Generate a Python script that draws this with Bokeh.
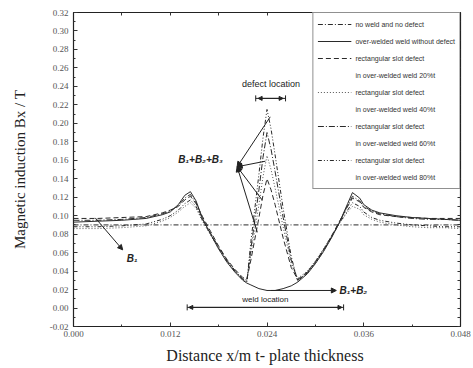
import math
from bokeh.plotting import figure
from bokeh.models import (Range1d, FixedTicker, NumeralTickFormatter, LinearAxis, Legend, LegendItem,
                          Label, Arrow, NormalHead, TeeHead)
from bokeh.embed import file_html
from bokeh.resources import INLINE

# ---------------- data ----------------
x = [0.000, 0.003, 0.006, 0.009, 0.011, 0.012, 0.013, 0.0138, 0.0145, 0.0152, 0.016, 0.017, 0.018, 0.019,
     0.020, 0.021, 0.0215, 0.022, 0.023, 0.0235, 0.024, 0.0245, 0.025, 0.026, 0.027, 0.0278, 0.029, 0.030,
     0.031, 0.032, 0.033, 0.034, 0.0346, 0.0355, 0.036, 0.037, 0.038, 0.040, 0.042, 0.044, 0.046, 0.048]

no_weld_x = [0.000, 0.012, 0.024, 0.036, 0.048]
no_weld_y = [0.090, 0.090, 0.090, 0.090, 0.090]

no_defect = [0.093, 0.094, 0.095, 0.097, 0.101, 0.104, 0.112, 0.122, 0.126, 0.116, 0.097, 0.080, 0.064, 0.050,
             0.039, 0.030, 0.027, 0.025, 0.021, 0.020, 0.019, 0.019, 0.019, 0.021, 0.024, 0.028, 0.037, 0.048,
             0.061, 0.076, 0.093, 0.113, 0.125, 0.119, 0.112, 0.106, 0.103, 0.100, 0.098, 0.097, 0.096, 0.095]

defect_20 = [0.097, 0.097, 0.098, 0.099, 0.103, 0.106, 0.110, 0.117, 0.121, 0.113, 0.099, 0.083, 0.067, 0.053,
             0.042, 0.033, 0.031, 0.052, 0.098, 0.122, 0.140, 0.128, 0.112, 0.076, 0.044, 0.031, 0.039, 0.050,
             0.063, 0.078, 0.094, 0.110, 0.119, 0.115, 0.109, 0.104, 0.101, 0.099, 0.098, 0.097, 0.097, 0.097]

defect_40 = [0.086, 0.086, 0.087, 0.089, 0.094, 0.098, 0.104, 0.110, 0.114, 0.108, 0.094, 0.079, 0.064, 0.051,
             0.040, 0.032, 0.030, 0.058, 0.112, 0.142, 0.165, 0.150, 0.130, 0.088, 0.048, 0.032, 0.040, 0.051,
             0.064, 0.078, 0.092, 0.104, 0.110, 0.107, 0.101, 0.096, 0.093, 0.090, 0.088, 0.087, 0.087, 0.086]

defect_60 = [0.095, 0.095, 0.096, 0.098, 0.102, 0.105, 0.111, 0.119, 0.123, 0.114, 0.096, 0.081, 0.066, 0.052,
             0.041, 0.031, 0.029, 0.064, 0.128, 0.163, 0.190, 0.172, 0.148, 0.098, 0.052, 0.030, 0.038, 0.049,
             0.062, 0.077, 0.093, 0.111, 0.121, 0.116, 0.110, 0.105, 0.102, 0.099, 0.097, 0.096, 0.096, 0.095]

defect_80 = [0.088, 0.088, 0.089, 0.091, 0.096, 0.100, 0.106, 0.113, 0.117, 0.110, 0.095, 0.080, 0.065, 0.051,
             0.040, 0.031, 0.028, 0.072, 0.145, 0.184, 0.215, 0.194, 0.166, 0.108, 0.056, 0.029, 0.039, 0.050,
             0.063, 0.077, 0.092, 0.106, 0.114, 0.110, 0.104, 0.098, 0.095, 0.092, 0.090, 0.089, 0.088, 0.088]

legend_labels = ["no weld and no defect", "over-welded weld without defect",
                 "rectangular slot defect", "in over-welded weld 20%t",
                 "rectangular slot defect", "in over-welded weld 40%t",
                 "rectangular slot defect", "in over-welded weld 60%t",
                 "rectangular slot defect", "in over-welded weld 80%t"]

x_ticks = [0.000, 0.012, 0.024, 0.036, 0.048]
x_minor = [0.006, 0.018, 0.030, 0.042]
y_ticks = [-0.02, 0.00, 0.02, 0.04, 0.06, 0.08, 0.10, 0.12, 0.14, 0.16, 0.18, 0.20, 0.22, 0.24, 0.26, 0.28, 0.30, 0.32]
y_minor = [-0.01, 0.01, 0.03, 0.05, 0.07, 0.09, 0.11, 0.13, 0.15, 0.17, 0.19, 0.21, 0.23, 0.25, 0.27, 0.29, 0.31]

# ---------------- figure ----------------
SERIF = "Liberation Serif"
SANS = "Liberation Sans"
p = figure(width=473, height=368, output_backend="svg", toolbar_location=None,
           x_range=Range1d(0, 0.048), y_range=Range1d(-0.02, 0.32),
           min_border_left=73, min_border_top=12, min_border_right=13, min_border_bottom=42)
p.grid.visible = False
p.outline_line_color = "#222222"
p.outline_line_width = 1.2
p.background_fill_color = "white"
p.border_fill_color = "white"

xt = FixedTicker(ticks=x_ticks, minor_ticks=x_minor)
yt = FixedTicker(ticks=y_ticks, minor_ticks=y_minor)

for ax in (p.xaxis[0], p.yaxis[0]):
    ax.major_tick_in = 4
    ax.major_tick_out = 0
    ax.minor_tick_in = 2
    ax.minor_tick_out = 0
    ax.axis_line_color = "#222222"
    ax.major_tick_line_color = "#333333"
    ax.minor_tick_line_color = "#333333"
    ax.major_label_text_font = SERIF
    ax.major_label_text_font_size = "9px"
    ax.major_label_text_color = "#555555"
p.xaxis[0].ticker = xt
p.yaxis[0].ticker = yt
p.xaxis[0].formatter = NumeralTickFormatter(format="0.000")
p.yaxis[0].formatter = NumeralTickFormatter(format="0.00")
p.xaxis[0].major_label_standoff = 4
p.yaxis[0].major_label_standoff = 5
p.xaxis[0].axis_label = "Distance x/m  t- plate thickness"
p.xaxis[0].axis_label_text_font = SERIF
p.xaxis[0].axis_label_text_font_size = "16px"
p.xaxis[0].axis_label_text_font_style = "normal"
p.xaxis[0].axis_label_text_color = "#222222"
p.xaxis[0].axis_label_standoff = 7
p.yaxis[0].axis_label = "Magnetic induction Bx / T"
p.yaxis[0].axis_label_text_font = SERIF
p.yaxis[0].axis_label_text_font_size = "15px"
p.yaxis[0].axis_label_text_font_style = "normal"
p.yaxis[0].axis_label_text_color = "#222222"
p.yaxis[0].axis_label_standoff = 19

# mirrored tick marks on top and right (no labels)
for loc, major, minor in (("above", x_ticks, x_minor), ("right", y_ticks, y_minor)):
    ax = LinearAxis(ticker=FixedTicker(ticks=[], minor_ticks=major + minor),
                    minor_tick_in=3, minor_tick_out=0, major_tick_in=0, major_tick_out=0,
                    major_label_standoff=0, axis_line_color="#222222",
                    minor_tick_line_color="#333333")
    p.add_layout(ax, loc)

# ---------------- curves ----------------
LC = "#2a2a2a"
r_nw = p.line(no_weld_x, no_weld_y, line_color=LC, line_width=1, line_dash="5 2 1 2")
r_nd = p.line(x, no_defect, line_color=LC, line_width=1)
r_20 = p.line(x, defect_20, line_color=LC, line_width=1, line_dash="5 3")
r_40 = p.line(x, defect_40, line_color="#555555", line_width=1, line_dash="1 2")
r_60 = p.line(x, defect_60, line_color=LC, line_width=1, line_dash="6 2 1 2")
r_80 = p.line(x, defect_80, line_color=LC, line_width=1, line_dash="4 2 1 2 1 2")
r_blank = p.line([], [], line_alpha=0)

rends = [r_nw, r_nd, r_20, r_blank, r_40, r_blank, r_60, r_blank, r_80, r_blank]
items = [LegendItem(label=lab, renderers=[r]) for lab, r in zip(legend_labels, rends)]
leg = Legend(items=items, location="top_right", margin=0, padding=4, spacing=3,
             glyph_width=34, glyph_height=14, label_height=14, label_standoff=4,
             label_text_font=SANS, label_text_font_size="7px",
             label_text_color="#333333", border_line_color="#222222", border_line_width=1.2,
             background_fill_color="white", background_fill_alpha=1)
p.add_layout(leg)

# ---------------- annotations ----------------
AC = "#222222"
# defect location
p.add_layout(Label(x=0.0245, y=0.243, text="defect location", text_align="center", text_baseline="middle",
                   text_font=SANS, text_font_size="9px", text_color=AC))
p.add_layout(Arrow(x_start=0.0226, y_start=0.227, x_end=0.0263, y_end=0.227,
                   start=TeeHead(size=6, line_color=AC, line_width=1), end=TeeHead(size=6, line_color=AC, line_width=1),
                   line_color=AC, line_width=1))
p.add_layout(Arrow(x_start=0.0245, y_start=0.227, x_end=0.0229, y_end=0.227,
                   end=NormalHead(size=4, fill_color=AC, line_color=AC), line_color=AC, line_width=1))
p.add_layout(Arrow(x_start=0.0245, y_start=0.227, x_end=0.0260, y_end=0.227,
                   end=NormalHead(size=4, fill_color=AC, line_color=AC), line_color=AC, line_width=1))

# B1+B2+B3
p.add_layout(Label(x=0.0130, y=0.161, text="B\u2081+B\u2082+B\u2083", text_align="left", text_baseline="middle",
                   text_font=SANS, text_font_size="10px", text_font_style="bold italic", text_color=AC))
for xs, ys in ((0.0244, 0.207), (0.0238, 0.159), (0.0234, 0.117), (0.0228, 0.082)):
    p.add_layout(Arrow(x_start=xs, y_start=ys, x_end=0.0203, y_end=0.153,
                       end=NormalHead(size=5, fill_color=AC, line_color=AC), line_color=AC, line_width=1))

# B1
p.add_layout(Arrow(x_start=0.0027, y_start=0.0976, x_end=0.0061, y_end=0.063,
                   end=NormalHead(size=5, fill_color=AC, line_color=AC), line_color=AC, line_width=1))
p.add_layout(Label(x=0.0066, y=0.054, text="B\u2081", text_align="left", text_baseline="middle",
                   text_font=SANS, text_font_size="10px", text_font_style="bold italic", text_color=AC))

# B1+B2
p.add_layout(Arrow(x_start=0.0245, y_start=0.019, x_end=0.0326, y_end=0.019,
                   end=NormalHead(size=5, fill_color=AC, line_color=AC), line_color=AC, line_width=1))
p.add_layout(Label(x=0.0330, y=0.019, text="B\u2081+B\u2082", text_align="left", text_baseline="middle",
                   text_font=SANS, text_font_size="10px", text_font_style="bold italic", text_color=AC))

# weld location
p.add_layout(Label(x=0.0238, y=0.0094, text="weld location", text_align="center", text_baseline="middle",
                   text_font=SANS, text_font_size="8px", text_color=AC))
p.add_layout(Arrow(x_start=0.0141, y_start=0.0007, x_end=0.0335, y_end=0.0007,
                   start=TeeHead(size=6, line_color=AC, line_width=1), end=TeeHead(size=6, line_color=AC, line_width=1),
                   line_color=AC, line_width=1))
p.add_layout(Arrow(x_start=0.0240, y_start=0.0007, x_end=0.0143, y_end=0.0007,
                   end=NormalHead(size=4, fill_color=AC, line_color=AC), line_color=AC, line_width=1))
p.add_layout(Arrow(x_start=0.0240, y_start=0.0007, x_end=0.0333, y_end=0.0007,
                   end=NormalHead(size=4, fill_color=AC, line_color=AC), line_color=AC, line_width=1))

open("out.html", "w").write(file_html(p, INLINE))
